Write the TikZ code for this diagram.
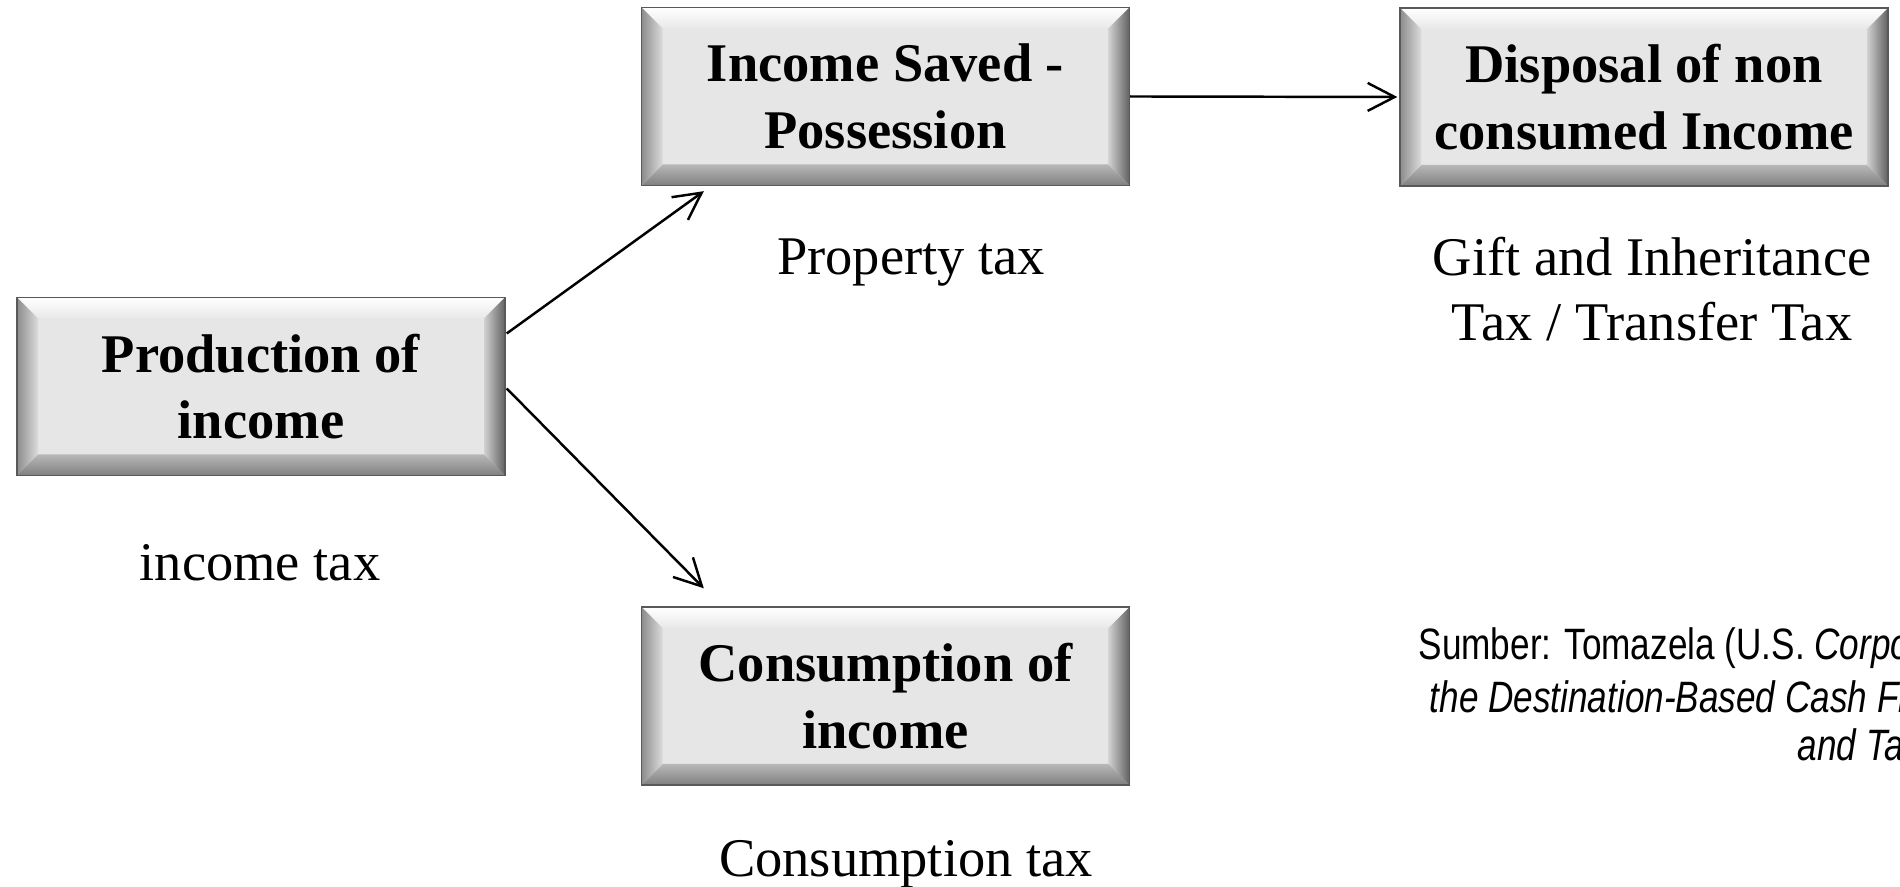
\documentclass[tikz,border=0pt]{standalone}
\usepackage{fontspec}
\setmainfont{Liberation Serif}
\newfontfamily\narrowsans[FakeStretch=0.80]{Liberation Sans}
\usepackage{tikz}
\usetikzlibrary{calc,arrows.meta}
\definecolor{boxface}{HTML}{E6E6E6}
\def\bevelsz{0.21cm}
\def\boxfont{\bfseries\fontsize{15.5}{19}\selectfont}
\def\taxfont{\fontsize{15.5}{18.5}\selectfont}
\tikzset{
	bevelbox/.style={draw=black!65, line width=0.4pt, fill=boxface, minimum width=4.88cm, minimum height=1.78cm,
		align=center, font=\boxfont, inner sep=0pt,
		path picture={
			\path (path picture bounding box.north west) coordinate (pnw)
				(path picture bounding box.north east) coordinate (pne)
				(path picture bounding box.south west) coordinate (psw)
				(path picture bounding box.south east) coordinate (pse);
			\shade[top color=white, bottom color=black!9] (pnw) -- (pne) -- ([shift={(-\bevelsz,-\bevelsz)}]pne) -- ([shift={(\bevelsz,-\bevelsz)}]pnw) -- cycle;
			\shade[top color=black!28, bottom color=black!50] (psw) -- (pse) -- ([shift={(-\bevelsz,\bevelsz)}]pse) -- ([shift={(\bevelsz,\bevelsz)}]psw) -- cycle;
			\shade[left color=black!45, right color=black!14] (pnw) -- ([shift={(\bevelsz,-\bevelsz)}]pnw) -- ([shift={(\bevelsz,\bevelsz)}]psw) -- (psw) -- cycle;
			\shade[left color=black!18, right color=black!62] (pne) -- ([shift={(-\bevelsz,-\bevelsz)}]pne) -- ([shift={(-\bevelsz,\bevelsz)}]pse) -- (pse) -- cycle;
		}},
	taxlabel/.style={align=center, font=\taxfont, inner sep=0pt},
	srcline/.style={anchor=west, font=\narrowsans\fontsize{12.5}{14}\selectfont, inner sep=0pt},
	flow/.style={line width=0.7pt, -{Straight Barb[length=0.27cm, width=0.28cm]}},
}

\begin{document}
\begin{tikzpicture}
			%%%%% START %%%%%
			
			\useasboundingbox (0, 0) rectangle (19, 8.87);
			\clip (0, 0) rectangle (19, 8.87);
			
			\node[bevelbox] (prod) at (2.61, 5.005) {Production of\\income};
			\node[bevelbox] (saved) at (8.855, 7.905) {Income Saved -\\Possession};
			\node[bevelbox] (disp) at (16.44, 7.90) {Disposal of non\\consumed Income};
			\node[bevelbox] (cons) at (8.855, 1.91) {Consumption of\\income};
			
			\node[taxlabel] (inctax) at (2.60, 3.24) {income tax};
			\node[taxlabel] (proptax) at (9.11, 6.24) {Property tax};
			\node[taxlabel] (gifttax) at (16.52, 5.98) {Gift and Inheritance\\Tax / Transfer Tax};
			\node[taxlabel] (constax) at (9.06, 0.23) {Consumption tax};
			
			\draw[flow] ($(prod.east)+(0.01, 0.53)$) -- ($(saved.south west)+(0.63, -0.05)$);
			\draw[flow] ($(prod.east)+(0.01, -0.02)$) -- ($(cons.north west)+(0.63, 0.18)$);
			\draw[flow] (saved.east) -- ($(disp.west)+(-0.02, 0)$);
			
			\node[srcline] (src1) at (14.18, 2.39) {Sumber: Tomazela (U.S. \textit{Corpo}};
			\node[srcline] (src2) at (14.29, 1.90) {\textit{the Destination-Based Cash Fl}};
			\node[srcline] (src3) at (17.97, 1.42) {\textit{and Ta}};
			
			%%%%% END %%%%%
		\end{tikzpicture}
\end{document}
